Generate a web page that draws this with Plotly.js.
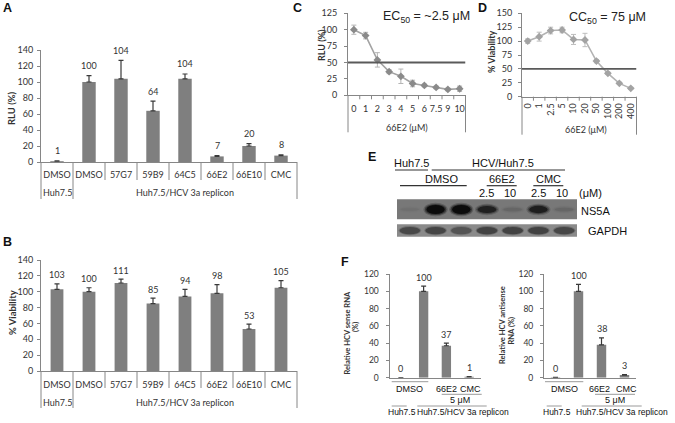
<!DOCTYPE html>
<html><head><meta charset="utf-8">
<script src="https://cdn.plot.ly/plotly-3.0.1.min.js"></script>
<style>html,body{margin:0;padding:0;background:#fff}</style>
</head><body><div id="chart" style="width:675px;height:423px"></div>
<script>
// ---------------- data ----------------
const catsA = ['DMSO','DMSO','57G7','59B9','64C5','66E2','66E10','CMC'];
const rluA = [1,100,104,64,104,7,20,8];
const rluErrA = [0.5,8,23,12,6,1,3,1];
const catsB = ['DMSO','DMSO','57G7','59B9','64C5','66E2','66E10','CMC'];
const viaB = [103,100,111,85,94,98,53,105];
const viaErrB = [7,5,5,7,9,11,6,9];
const groupLabels = ['Huh7.5','Huh7.5/HCV 3a replicon'];
const doseC = ['0','1','2','3','4','5','6','7.5','9','10'];
const rluC = [100,91,54,36,29,18,15,12,9,10];
const rluErrC = [7,5,11,3,11,5,2,2,2,4];
const thresholdC = 50;
const doseD = ['0','1','2.5','5','10','20','50','100','200','400'];
const viaD = [100,108,119,120,103,102,64,42,24,15];
const viaErrD = [4,8,6,5,9,12,3,2,2,2];
const thresholdD = 50;
const lanesE = [1,2,3,4,5,6,7];
const ns5aE = [0.04,1,1,0.7,0.1,0.72,0.1];
const gapdhE = [0.7,0.75,0.55,0.8,0.8,0.8,0.72];
const senseF = [0,100,37,1];
const senseErrF = [0,6,3,0.3];
const antiF = [0.4,100,38,3];
const antiErrF = [0,8,8,0.5];

// ---------------- geometry (pixels) ----------------
const W=675,H=423;
const PX = v => v/W, PY = v => 1 - v/H;
const G = {
  A:{x:[41,297], y:[50,162], xr:[-0.5,7.5], yr:[0,140]},
  B:{x:[41,297], y:[260,371], xr:[-0.5,7.5], yr:[0,140]},
  C:{x:[348,465.5], y:[13.3,95.3], xr:[-0.5,9.5], yr:[0,125]},
  D:{x:[522,636.5], y:[13.3,96.7], xr:[-0.5,9.5], yr:[0,150]},
  E:{x:[397,577], y:[195,240]},
  F1:{x:[389.5,480.5], y:[274,377.7], xr:[-0.5,3.5], yr:[0,120]},
  F2:{x:[544,636], y:[274,377.7], xr:[-0.5,3.5], yr:[0,120]}
};
const domX = g => [PX(g.x[0]), PX(g.x[1])];
const domY = g => [PY(g.y[1]), PY(g.y[0])];
const cx = (g,c) => g.x[0] + (c-g.xr[0])/(g.xr[1]-g.xr[0])*(g.x[1]-g.x[0]);
const idx = a => a.map((_,i)=>i);
const zeros = a => a.map(()=>0);

const AX = '#868686', TXT = '#333';
const XL = 'Lato, "Open Sans", sans-serif';
const AR = '"Liberation Sans", Arial, sans-serif';

function yax(g, anchor, dtick, standoff, fs){
  return {domain:domY(g), range:g.yr, anchor, dtick, tick0:0, showline:true, linecolor:AX, linewidth:1,
    ticks:'outside', ticklen:3, tickcolor:AX, ticklabelstandoff:standoff,
    tickfont:{family:XL,size:fs||9,color:TXT}, showgrid:false, zeroline:false, fixedrange:true};
}
function xax(g, anchor, labels, ticklen, extra){
  return Object.assign({domain:domX(g), range:g.xr, anchor, showline:true, linecolor:AX, linewidth:1,
    tickmode:'array', tickvals: labels? idx(labels):[], ticktext: labels||[], showticklabels: !!labels,
    ticks: labels?'outside':'', ticklen: ticklen||4, tickcolor:'rgba(0,0,0,0)',
    tickfont:{family:XL,size:9,color:TXT}, showgrid:false, zeroline:false, fixedrange:true}, extra||{});
}

const traces = [];
function bars(x,y,err,xa,ya,w){
  traces.push({type:'bar', x, y, xaxis:xa, yaxis:ya, width:w, marker:{color:'#7f7f7f', line:{width:0}},
    error_y:{type:'data', symmetric:false, array:err, arrayminus:zeros(err), color:'#3a3a3a', thickness:1.2, width:2.5},
    hoverinfo:'none'});
}
bars(idx(catsA), rluA, rluErrA, 'x','y',0.42);
bars(idx(catsB), viaB, viaErrB, 'x2','y2',0.4);
bars(idx(senseF), senseF, senseErrF, 'x6','y6',0.41);
bars(idx(antiF), antiF, antiErrF, 'x7','y7',0.41);
traces.push({type:'scatter', mode:'lines+markers', x:idx(doseC), y:rluC, xaxis:'x3', yaxis:'y3',
  line:{color:'#a3a3a3', width:1.6}, marker:{symbol:'diamond', size:6, color:'#8a8a8a'},
  error_y:{type:'data', array:rluErrC, color:'#b5b5b5', thickness:1, width:2.5}, hoverinfo:'none'});
traces.push({type:'scatter', mode:'lines+markers', x:idx(doseD), y:viaD, xaxis:'x4', yaxis:'y4',
  line:{color:'#b3b3b3', width:1.6}, marker:{symbol:'diamond', size:6, color:'#a3a3a3'},
  error_y:{type:'data', array:viaErrD, color:'#bdbdbd', thickness:1, width:2.5}, hoverinfo:'none'});

// ---------------- shapes ----------------
const shapes = [];
function pline(x0,y0,x1,y1,color,w){
  shapes.push({type:'line', xref:'paper', yref:'paper', x0:PX(x0), x1:PX(x1), y0:PY(y0), y1:PY(y1),
    line:{color:color||AX, width:w||1}});
}
function seps(g, n, innerLen, outerLen, outer){
  const ax = g.y[1];
  for(let b=-0.5; b<=n-0.5+1e-9; b+=1){
    const isOuter = outer.some(o=>Math.abs(o-b)<1e-6);
    pline(cx(g,b), ax, cx(g,b), ax + (isOuter?outerLen:innerLen));
  }
}
seps(G.A, 8, 18, 37, [-0.5,0.5,7.5]);
seps(G.B, 8, 17, 37, [-0.5,0.5,7.5]);
seps(G.C, 10, 4, 37, [-0.5,9.5]);
seps(G.D, 10, 4, 38, [-0.5,9.5]);
shapes.push({type:'line', xref:'x3', yref:'y3', x0:-0.5, x1:9.5, y0:thresholdC, y1:thresholdC, line:{color:'#5a5a5a', width:1.8}});
shapes.push({type:'line', xref:'x4', yref:'y4', x0:-0.5, x1:9.5, y0:thresholdD, y1:thresholdD, line:{color:'#5a5a5a', width:1.8}});
// western blot strips and bands
shapes.push({type:'rect', xref:'x5', yref:'y5', x0:0.5, x1:7.5, y0:199.3, y1:219.3, fillcolor:'#787878', line:{width:0}});
shapes.push({type:'rect', xref:'x5', yref:'y5', x0:0.5, x1:7.5, y0:224.3, y1:236.7, fillcolor:'#8a8a8a', line:{width:0}});
lanesE.forEach((l,i)=>{
  const a = ns5aE[i], h = 3 + 6*a;
  [[0.47,2.2,0.25],[0.42,1.1,0.5],[0.36,0,1]].forEach(([hw,pad,k])=>{
    shapes.push({type:'circle', xref:'x5', yref:'y5', x0:l-hw, x1:l+hw, y0:209.5-h/2-pad, y1:209.5+h/2+pad,
      fillcolor:'rgba(8,8,8,'+(a*k*0.9)+')', line:{width:0}});
  });
  const b = gapdhE[i];
  [[0.44,1,0.45],[0.4,0,1]].forEach(([hw,pad,k])=>{
    shapes.push({type:'circle', xref:'x5', yref:'y5', x0:l-hw, x1:l+hw, y0:227-pad, y1:234.2+pad,
      fillcolor:'rgba(45,45,45,'+(b*k*0.85)+')', line:{width:0}});
  });
});
[[395,170,428],[431.7,170,565],[400,185.7,466.7],[486.7,185.7,516.7],[533.3,185.7,563.3]].forEach(s=>pline(s[0],s[1],s[2],s[1],'#333',1.2));
[[391.7,381.7,428.3],[441.7,394.3,481.7],[391.7,406,406.7],[417.3,406,486.7],
 [545,381.7,583.3],[595,394.3,635],[546.7,406,561.7],[581.7,406,641.7]].forEach(s=>pline(s[0],s[1],s[2],s[1],'#9a9a9a',1));

// ---------------- annotations ----------------
const ann = [];
function T(text,x,y,o){
  o=o||{};
  ann.push({text, x:PX(x), y:PY(y), xref:'paper', yref:'paper', showarrow:false,
    xanchor:o.xa||'center', yanchor:'middle', textangle:o.rot||0,
    font:{family:o.f||XL, size:o.s||9, color:o.c||TXT}});
}
function valLabels(vals, errs, xa, ya, shift){
  vals.forEach((v,i)=>ann.push({text:String(Math.round(v)), x:i, y:v+errs[i], xref:xa, yref:ya,
    showarrow:false, yanchor:'middle', yshift:shift, font:{family:XL,size:9,color:TXT}}));
}
valLabels(rluA, rluErrA, 'x','y',10);
valLabels(viaB, viaErrB, 'x2','y2',9);
valLabels(senseF, senseErrF, 'x6','y6',9);
valLabels(antiF, antiErrF, 'x7','y7',9);

[['A',7,8],['B',7,242],['C',297,8],['D',482,8],['E',372,157],['F',345,262]].forEach(p=>T('<b>'+p[0]+'</b>',p[1],p[2],{f:AR,s:12.5,c:'#111'}));
T(groupLabels[0], cx(G.A,0), 192); T(groupLabels[1], (cx(G.A,0.5)+cx(G.A,7.5))/2, 192);
T(groupLabels[0], cx(G.B,0), 402); T(groupLabels[1], (cx(G.B,0.5)+cx(G.B,7.5))/2, 402);
T('<b>RLU (%)</b>', 12, 108, {rot:-90, s:9.5});
T('<b>% Viability</b>', 12, 313, {rot:-90, s:9.5});
T('<b>RLU (%)</b>', 321, 45, {rot:-90, s:9});
T('66E2 (μM)', 407, 127);
T('<b>% Viability</b>', 492, 52, {rot:-90, s:9});
T('66E2 (μM)', 586, 129);
T('EC<sub>50</sub> = ~2.5 μM', 472, 17, {xa:'right', f:AR, s:12.5, c:'#222'});
T('CC<sub>50</sub> = 75 μM', 607.5, 18, {f:AR, s:12.5, c:'#222'});
const EL = {f:AR, s:11, c:'#111'};
T('Huh7.5',411.7,163.3,EL); T('HCV/Huh7.5',503,163.3,EL);
T('DMSO',441.7,179.3,EL); T('66E2',501.7,179.3,EL); T('CMC',548.3,179.3,EL);
T('2.5',486.7,193.5,EL); T('10',510,193.5,EL); T('2.5',538.3,193.5,EL); T('10',561.7,193.5,EL); T('(μM)',590,193.5,EL);
T('NS5A',595.5,210.5,EL); T('GAPDH',607,231,EL);
const FL = {f:AR, s:9, c:'#111'}, FS = {f:AR, s:8.5, c:'#111'};
T('DMSO',409.2,389,FL); T('66E2',446.5,389,FL); T('CMC',470.5,389,FL); T('5 μM',459.5,399.5,FL);
T('Huh7.5',402,412,FS); T('Huh7.5/HCV 3a replicon',462.5,412,FS);
T('DMSO',564.5,389,FL); T('66E2',599.7,389,FL); T('CMC',626,389,FL); T('5 μM',614.7,399.5,FL);
T('Huh7.5',556.7,412,FS); T('Huh7.5/HCV 3a replicon',621.7,412,FS);
T('<b>Relative HCV sense RNA</b>',346.5,333,{rot:-90,s:7.5});
T('<b>(%)</b>',355,327,{rot:-90,s:7.5});
T('<b>Relative HCV antisense</b>',502,325,{rot:-90,s:7.5});
T('<b>RNA (%)</b>',510.5,330,{rot:-90,s:7.5});

const layout = {
  width:W, height:H, margin:{l:0,r:0,t:0,b:0}, paper_bgcolor:'#fff', plot_bgcolor:'rgba(0,0,0,0)',
  showlegend:false,
  xaxis: xax(G.A,'y',catsA,4),  yaxis: yax(G.A,'x',20,2),
  xaxis2: xax(G.B,'y2',catsB,5), yaxis2: yax(G.B,'x2',20,2),
  xaxis3: xax(G.C,'y3',doseC,5), yaxis3: yax(G.C,'x3',25,5),
  xaxis4: xax(G.D,'y4',doseD,2,{tickangle:-90}), yaxis4: yax(G.D,'x4',25,4),
  xaxis5: {domain:domX(G.E), range:[0.5,7.5], anchor:'y5', visible:false, fixedrange:true},
  yaxis5: {domain:domY(G.E), range:[240,195], anchor:'x5', visible:false, fixedrange:true},
  xaxis6: xax(G.F1,'y6',null), yaxis6: yax(G.F1,'x6',20,5,8.5),
  xaxis7: xax(G.F2,'y7',null), yaxis7: yax(G.F2,'x7',20,5,8.5),
  shapes, annotations: ann
};
Plotly.newPlot('chart', traces, layout, {staticPlot:true, displayModeBar:false});
</script></body></html>
